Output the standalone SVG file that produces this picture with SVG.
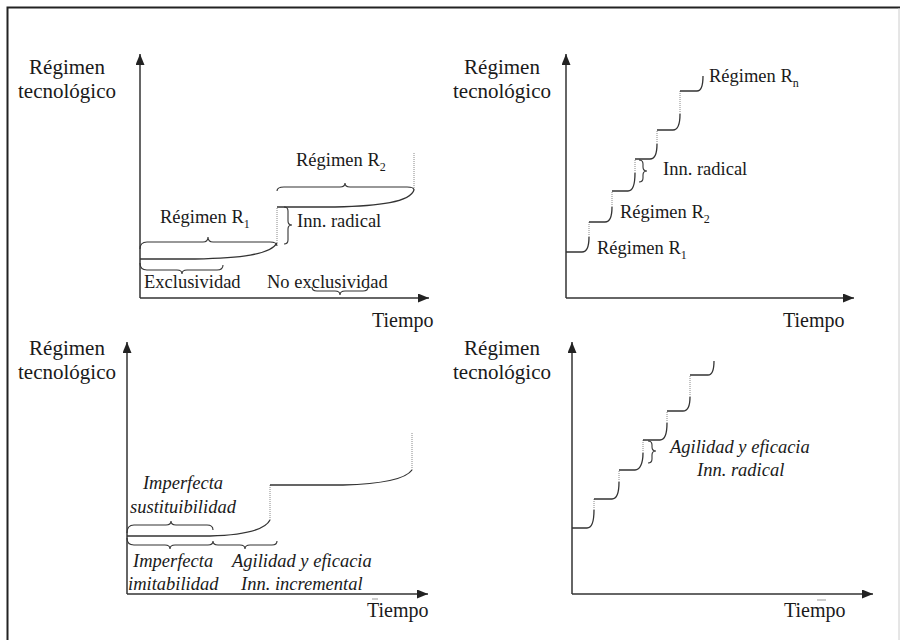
<svg xmlns="http://www.w3.org/2000/svg" width="900" height="640" viewBox="0 0 900 640">
<style>
text{font-family:"Liberation Serif","Times New Roman",serif;fill:#1a1a1a}
.ax{font-size:21px}
.lb{font-size:18.5px}
.it{font-size:18.5px;font-style:italic}
.tm{font-size:20px}
.sub{font-size:12px}
.axis{stroke:#333;stroke-width:1.5;fill:none;marker-end:url(#arr)}
.crv{stroke:#333;stroke-width:1.3;fill:none}
.brc{stroke:#333;stroke-width:1.1;fill:none}
.dot{stroke:#888;stroke-width:1;stroke-dasharray:1 1;fill:none}
</style>
<defs>
<marker id="arr" markerUnits="userSpaceOnUse" markerWidth="12" markerHeight="10" refX="11" refY="4.5" orient="auto">
<path d="M0,0 L11,4.5 L0,9 z" fill="#222"/>
</marker>
</defs>
<rect width="900" height="640" fill="#fff"/>
<g id="frame">
<path d="M7.5,640 L7.5,7.5 L900,7.5" stroke="#222" stroke-width="2" fill="none"/>
<line x1="899" y1="8" x2="899" y2="640" stroke="#ccc" stroke-width="1"/>
</g>

<g id="panel1">
<text class="ax" x="67" y="74" text-anchor="middle">Régimen</text>
<text class="ax" x="67" y="98" text-anchor="middle">tecnológico</text>
<text class="tm" x="372" y="327">Tiempo</text>
<text class="lb" x="296" y="166">Régimen R<tspan class="sub" dy="5">2</tspan></text>
<text class="lb" x="160" y="223">Régimen R<tspan class="sub" dy="5">1</tspan></text>
<text class="lb" x="297" y="227">Inn. radical</text>
<text class="lb" x="144" y="288">Exclusividad</text>
<text class="lb" x="267" y="288">No exclusividad</text>
</g>

<g id="panel2">
<text class="ax" x="502" y="74" text-anchor="middle">Régimen</text>
<text class="ax" x="502" y="98" text-anchor="middle">tecnológico</text>
<text class="tm" x="783" y="327">Tiempo</text>
<text class="lb" x="709" y="82">Régimen R<tspan class="sub" dy="5">n</tspan></text>
<text class="lb" x="663" y="175">Inn. radical</text>
<text class="lb" x="620" y="218">Régimen R<tspan class="sub" dy="5">2</tspan></text>
<text class="lb" x="597" y="254">Régimen R<tspan class="sub" dy="5">1</tspan></text>
</g>

<g id="panel3">
<text class="ax" x="67" y="355" text-anchor="middle">Régimen</text>
<text class="ax" x="67" y="379" text-anchor="middle">tecnológico</text>
<text class="tm" x="367" y="617">Tiempo</text>
<text class="it" x="183" y="489" text-anchor="middle">Imperfecta</text>
<text class="it" x="130" y="513">sustituibilidad</text>
<text class="it" x="133" y="567">Imperfecta</text>
<text class="it" x="128" y="590">imitabilidad</text>
<text class="it" x="232" y="567">Agilidad y eficacia</text>
<text class="it" x="241" y="590">Inn. incremental</text>
</g>

<g id="panel4">
<text class="ax" x="502" y="355" text-anchor="middle">Régimen</text>
<text class="ax" x="502" y="379" text-anchor="middle">tecnológico</text>
<text class="tm" x="784" y="617">Tiempo</text>
<text class="it" x="670" y="453">Agilidad y eficacia</text>
<text class="it" x="697" y="476">Inn. radical</text>
</g>

<g id="connectors">
<!-- axes -->
<path class="axis" d="M140,298 L140,54"/>
<path class="axis" d="M140,298 L429,298"/>
<path class="axis" d="M566,298 L566,54"/>
<path class="axis" d="M566,298 L854,298"/>
<path class="axis" d="M127,594 L127,342"/>
<path class="axis" d="M127,594 L428,594"/>
<path class="axis" d="M572,594 L572,342"/>
<path class="axis" d="M572,594 L873,594"/>

<!-- panel 1 curves -->
<path class="crv" d="M140,259 L195,259 C240,258 270,255 277,243"/>
<path class="dot" d="M277,243 L277,207"/>
<path class="crv" d="M277,207 L335,207 C380,206 410,202 414,190"/>
<path class="dot" d="M414,190 L414,153"/>
<!-- panel 1 braces -->
<path class="brc" d="M140,249 Q140,242 147,242 L203,242 Q208,242 208,237 Q208,242 213,242 L270,242 Q277,242 277,246"/>
<path class="brc" d="M277,191 Q277,187 284,187 L340,187 Q345,187 345,183 Q345,187 350,187 L407,187 Q414,187 414,190"/>
<path class="brc" d="M284,207 Q288,207 288,211 L288,221 Q288,225 292,225 Q288,225 288,229 L288,240 Q288,244 284,244"/>
<path class="brc" d="M140,263 Q140,270 147,270 L177,270 Q182,270 182,274 Q182,270 187,270 L217,270 Q223,270 223,265"/>
<path class="brc" d="M312,287 Q312,291 317,291 L335,291 Q340,291 340,295 Q340,291 345,291 L363,291 Q368,291 368,287"/>

<!-- panel 2 staircase -->
<path class="crv" d="M566,252 L582,252 C587,252 589,246 589,237"/>
<path class="dot" d="M589,237 L589,222"/>
<path class="crv" d="M589,222 L605,222 C610,222 612,216 612,207"/>
<path class="dot" d="M612,207 L612,191"/>
<path class="crv" d="M612,191 L628,191 C633,191 635,184 635,173"/>
<path class="dot" d="M635,173 L635,159"/>
<path class="crv" d="M635,159 L650,159 C655,159 657,153 657,144"/>
<path class="dot" d="M657,144 L657,130"/>
<path class="crv" d="M657,130 L673,130 C678,130 680,123 680,114"/>
<path class="dot" d="M680,114 L680,91"/>
<path class="crv" d="M680,91 L697,91 C701,91 703,85 703,76"/>
<path class="brc" d="M639,160 Q643,160 643,164 L643,167 Q643,171 647,171 Q643,171 643,175 L643,178 Q643,182 639,182"/>

<!-- panel 3 curves -->
<path class="crv" d="M127,536 L210,536 C245,535 265,530 270,520"/>
<path class="dot" d="M270,520 L270,485"/>
<path class="crv" d="M270,485 L343,485 C380,484 405,480 412,470"/>
<path class="dot" d="M412,470 L412,433"/>
<path class="brc" d="M127,533 Q127,525 134,525 L166,525 Q171,525 171,521 Q171,525 176,525 L207,525 Q213,525 213,530"/>
<path class="brc" d="M127,538 Q127,545 134,545 L165,545 Q170,545 170,549 Q170,545 175,545 L208,545 Q213,545 213,541 Q213,545 218,545 L240,545 Q245,545 245,549 Q245,545 250,545 L272,545 Q277,545 277,541"/>

<!-- panel 4 staircase -->
<path class="crv" d="M572,528 L587,528 C592,528 594,521 594,510"/>
<path class="dot" d="M594,510 L594,499"/>
<path class="crv" d="M594,499 L612,499 C617,499 619,492 619,482"/>
<path class="dot" d="M619,482 L619,470"/>
<path class="crv" d="M619,470 L635,470 C640,470 643,463 643,453"/>
<path class="dot" d="M643,453 L643,440"/>
<path class="crv" d="M643,440 L660,440 C665,440 667,433 667,423"/>
<path class="dot" d="M667,423 L667,411"/>
<path class="crv" d="M667,411 L683,411 C688,411 690,405 690,397"/>
<path class="dot" d="M690,397 L690,375"/>
<path class="crv" d="M690,375 L708,375 C712,375 714,369 714,361"/>
<path class="brc" d="M648,441 Q652,441 652,445 L652,447 Q652,451 656,451 Q652,451 652,455 L652,459 Q652,463 648,463"/>

<!-- small marks -->
<line x1="372" y1="599" x2="378" y2="599" stroke="#999" stroke-width="1"/>
<line x1="817" y1="600" x2="826" y2="600" stroke="#999" stroke-width="1"/>
</g>
</svg>
